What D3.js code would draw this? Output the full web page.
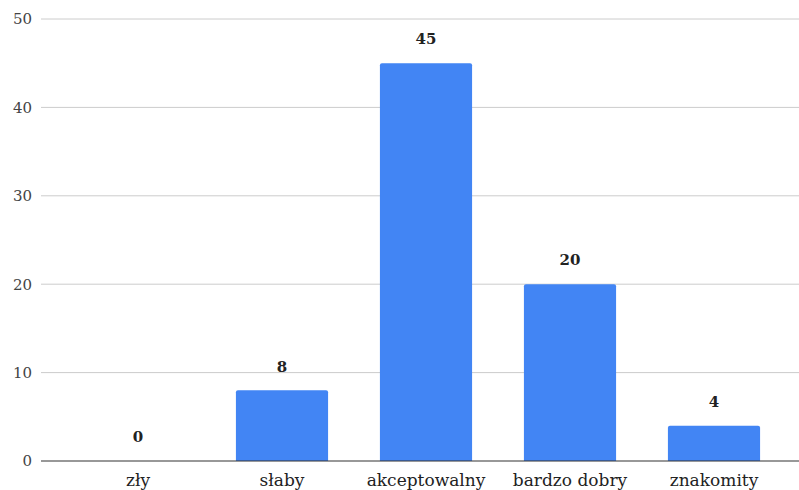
<!DOCTYPE html>
<html>
<head>
<meta charset="utf-8">
<script src="https://cdn.jsdelivr.net/npm/d3@7"></script>
<style>
  html, body { margin: 0; padding: 0; background: #fff; }
  svg { display: block; }
</style>
</head>
<body>
<svg id="chart" width="799" height="490"></svg>
<script>
// Rating categories and response counts
const categories = ["zły", "słaby", "akceptowalny", "bardzo dobry", "znakomity"];
const counts = [0, 8, 45, 20, 4];
const yTicks = [0, 10, 20, 30, 40, 50];

const gridLeft = 41, gridRight = 799;
const plotTop = 19, plotBottom = 461;
const fontFamily = "Georgia, 'DejaVu Serif', serif";

const svg = d3.select("#chart");

const x = d3.scaleBand()
  .domain(categories)
  .range([66, 786])
  .paddingInner(0.36)
  .paddingOuter(0.18);

const y = d3.scaleLinear().domain([0, 50]).range([plotBottom, plotTop]);

// Horizontal gridlines
svg.append("g")
  .selectAll("line")
  .data(yTicks.filter(d => d !== 0))
  .join("line")
  .attr("x1", gridLeft).attr("x2", gridRight)
  .attr("y1", d => y(d)).attr("y2", d => y(d))
  .attr("stroke", "#cccccc").attr("stroke-width", 1);

// Y axis labels
const yAxis = d3.axisLeft(y).tickValues(yTicks).tickSize(0).tickPadding(0);
const yg = svg.append("g").attr("transform", "translate(32,0)").call(yAxis);
yg.select(".domain").remove();
yg.selectAll("text")
  .attr("font-family", fontFamily)
  .attr("font-size", 15)
  .attr("fill", "#444");

// Bars with slightly rounded top corners
const r = 2;
svg.append("g")
  .selectAll("path")
  .data(categories.map((c, i) => ({ c, v: counts[i] })).filter(d => d.v > 0))
  .join("path")
  .attr("fill", "#4285f4")
  .attr("d", d => {
    const x0 = x(d.c), x1 = x0 + x.bandwidth();
    const y0 = y(d.v), y1 = y(0);
    return `M${x0},${y1}V${y0 + r}Q${x0},${y0} ${x0 + r},${y0}H${x1 - r}Q${x1},${y0} ${x1},${y0 + r}V${y1}Z`;
  });

// Baseline
svg.append("line")
  .attr("x1", gridLeft).attr("x2", gridRight)
  .attr("y1", y(0)).attr("y2", y(0))
  .attr("stroke", "#333").attr("stroke-width", 1.2);

// Value labels
svg.append("g")
  .selectAll("text")
  .data(categories.map((c, i) => ({ c, v: counts[i] })))
  .join("text")
  .attr("x", d => x(d.c) + x.bandwidth() / 2)
  .attr("y", d => y(d.v) - 24)
  .attr("dy", "0.35em")
  .attr("text-anchor", "middle")
  .attr("font-family", fontFamily)
  .attr("font-weight", "bold")
  .attr("font-size", 15)
  .attr("fill", "#222")
  .text(d => d.v);

// X axis labels
const xAxis = d3.axisBottom(x).tickSize(0).tickPadding(0);
const xg = svg.append("g").attr("transform", `translate(0,${plotBottom + 13})`).call(xAxis);
xg.select(".domain").remove();
xg.selectAll("text")
  .attr("font-family", fontFamily)
  .attr("font-size", 17)
  .attr("fill", "#222");
</script>
</body>
</html>
